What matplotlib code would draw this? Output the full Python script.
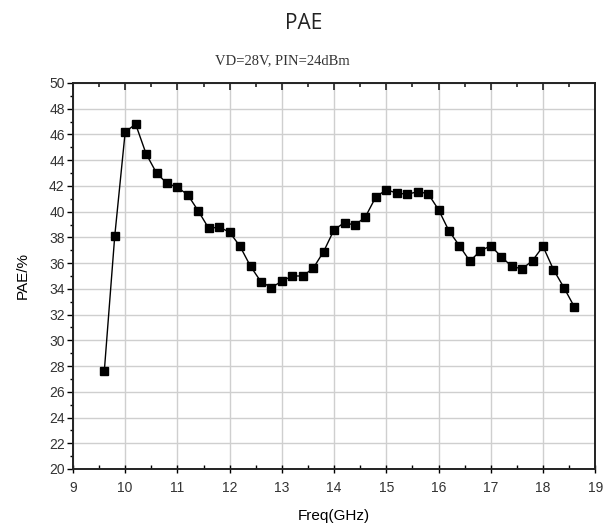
import numpy as np
import matplotlib.pyplot as plt
from matplotlib.ticker import MultipleLocator

# Данные PAE по частоте
freq = [9.6, 9.8, 10.0, 10.2, 10.4, 10.6, 10.8, 11.0, 11.2, 11.4, 11.6, 11.8,
        12.0, 12.2, 12.4, 12.6, 12.8, 13.0, 13.2, 13.4, 13.6, 13.8, 14.0, 14.2,
        14.4, 14.6, 14.8, 15.0, 15.2, 15.4, 15.6, 15.8, 16.0, 16.2, 16.4, 16.6,
        16.8, 17.0, 17.2, 17.4, 17.6, 17.8, 18.0, 18.2, 18.4, 18.6]
pae = [27.6, 38.1, 46.2, 46.8, 44.5, 43.0, 42.2, 41.9, 41.3, 40.05, 38.7, 38.8,
       38.4, 37.3, 35.75, 34.55, 34.1, 34.6, 35.0, 35.0, 35.6, 36.9, 38.6, 39.15,
       38.95, 39.6, 41.15, 41.7, 41.45, 41.35, 41.55, 41.4, 40.15, 38.5, 37.35, 36.15,
       36.95, 37.35, 36.5, 35.75, 35.55, 36.2, 37.3, 35.5, 34.1, 32.6]

title = 'PAE'
subtitle = 'VD=28V, PIN=24dBm'

fig = plt.figure(figsize=(6.08, 5.31), dpi=100)
ax = fig.add_axes([0.120, 0.1168, 0.859, 0.7269])

ax.plot(freq, pae, color='black', linewidth=1.0, marker='s', markersize=5.2,
        markerfacecolor='black', markeredgecolor='black', zorder=3)

ax.set_xlim(9, 19)
ax.set_ylim(20, 50)
ax.xaxis.set_major_locator(MultipleLocator(1))
ax.xaxis.set_minor_locator(MultipleLocator(0.5))
ax.yaxis.set_major_locator(MultipleLocator(2))
ax.yaxis.set_minor_locator(MultipleLocator(1))

ax.grid(True, which='major', color='#cfcfcf', linewidth=1.0)
ax.set_axisbelow(True)

# ось Y: засечки наружу
ax.tick_params(axis='y', which='major', direction='out', length=4, width=1,
               labelsize=10, labelcolor='#333333', pad=2)
ax.tick_params(axis='y', which='minor', direction='out', length=2.5, width=1)
# ось X снизу
ax.tick_params(axis='x', which='major', direction='inout', length=6, width=1,
               labelsize=10, labelcolor='#333333', pad=6)
ax.tick_params(axis='x', which='minor', direction='in', length=3, width=1)
for lab in ax.get_xticklabels() + ax.get_yticklabels():
    lab.set_family('Liberation Sans')

# верхняя ось: засечки внутрь, без подписей
top = ax.twiny()
top.set_xlim(ax.get_xlim())
top.xaxis.set_major_locator(MultipleLocator(1))
top.xaxis.set_minor_locator(MultipleLocator(0.5))
top.tick_params(which='major', direction='in', length=5, width=1.2,
                color='#222222', labeltop=False)
top.tick_params(which='minor', direction='in', length=3, width=1.2,
                color='#222222')

for a in (ax, top):
    for sp in a.spines.values():
        sp.set_color('#222222')
        sp.set_linewidth(1.2)

ax.set_xlabel('Freq(GHz)', fontsize=11, family='Liberation Sans', labelpad=10)
ax.set_ylabel('PAE/%', fontsize=11, family='Liberation Sans', labelpad=14)

fig.text(0.5, 0.955, title, ha='center', va='center', fontsize=15,
         family='Open Sans', color='#222222')
fig.text(0.465, 0.885, subtitle, ha='center', va='center', fontsize=10.5,
         family='Liberation Serif', color='#333333')

fig.savefig('out.png', dpi=100)
